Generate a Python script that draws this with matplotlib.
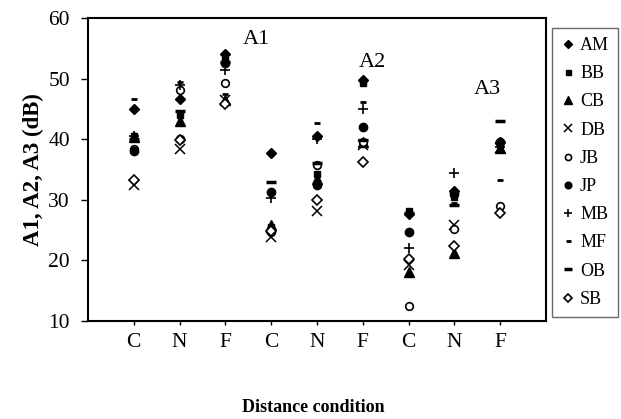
import matplotlib
matplotlib.use("Agg")
import matplotlib.pyplot as plt
import numpy as np

# categories along x: C/N/F for A1, A2, A3
conditions = ['C', 'N', 'F', 'C', 'N', 'F', 'C', 'N', 'F']
subjects = ['AM', 'BB', 'CB', 'DB', 'JB', 'JP', 'MB', 'MF', 'OB', 'SB']

# values (dB) per subject, one per condition column
AM = [45.0, 46.6, 54.0, 37.8, 40.5, 49.8, 27.7, 31.5, 39.5]
BB = [40.5, 44.0, 53.0, 25.5, 34.2, 49.2, 28.2, 30.5, 39.0]
CB = [40.3, 43.0, 46.5, 25.8, 33.5, 39.5, 18.1, 21.2, 38.5]
DB = [32.5, 38.3, 46.5, 23.8, 28.2, 39.0, 19.2, 25.8, 38.5]
JB = [38.4, 48.1, 49.2, 24.6, 35.8, 39.5, 12.5, 25.2, 29.0]
JP = [38.0, 40.0, 52.5, 31.3, 32.5, 42.0, 24.6, 31.0, 39.6]
MB = [40.6, 49.0, 51.5, 30.3, 40.0, 45.0, 22.0, 34.5, 38.7]
MF = [46.7, 49.5, 47.5, 33.0, 42.6, 46.2, 24.4, 29.5, 33.3]
OB = [40.0, 44.6, 52.8, 32.9, 36.0, 39.8, 27.8, 29.1, 43.0]
SB = [33.2, 39.9, 45.8, 24.8, 30.0, 36.3, 20.3, 22.4, 27.8]

series = [AM, BB, CB, DB, JB, JP, MB, MF, OB, SB]
styles = [
    dict(marker='D', ms=5.5, mfc='black', mec='black'),
    dict(marker='s', ms=4.5, mfc='black', mec='black'),
    dict(marker='^', ms=6.5, mfc='black', mec='black'),
    dict(marker='x', ms=6.5, mec='black', mew=1.1),
    dict(marker='o', ms=5.5, mfc='white', mec='black', mew=1.2),
    dict(marker='o', ms=6.0, mfc='black', mec='black'),
    dict(marker='+', ms=7.5, mec='black', mew=1.2),
    dict(marker='_', ms=4.5, mec='black', mew=2.0),
    dict(marker='_', ms=7.0, mec='black', mew=2.5),
    dict(marker='D', ms=5.5, mfc='white', mec='black', mew=1.2),
]

plt.rcParams['font.family'] = ['Liberation Serif', 'DejaVu Serif']

fig = plt.figure(figsize=(6.21, 4.19), dpi=100)
ax = fig.add_axes([0.1417, 0.234, 0.7375, 0.723])

x = np.arange(1, len(conditions) + 1)
for name, vals, st in zip(subjects, series, styles):
    ax.plot(x, vals, linestyle='none', color='black', label=name, **st)

ax.set_xlim(0, 10)
ax.set_ylim(10, 60)
ax.set_yticks([10, 20, 30, 40, 50, 60])
ax.set_xticks(x)
ax.set_xticklabels(conditions)
ax.tick_params(axis='both', labelsize=15.5, direction='out', width=1)
ax.tick_params(axis='y', length=5, pad=8)
ax.tick_params(axis='x', length=3, pad=6)
for sp in ax.spines.values():
    sp.set_linewidth(1.5)

ax.text(3.67, 56.4, 'A1', fontsize=16, ha='center', va='center')
ax.text(6.22, 52.7, 'A2', fontsize=16, ha='center', va='center')
ax.text(8.72, 48.2, 'A3', fontsize=16, ha='center', va='center')

ax.set_ylabel('A1, A2, A3 (dB)', fontsize=16.5, fontweight='bold')
ax.yaxis.set_label_coords(-0.096, 0.5)
fig.text(0.505, 0.027, 'Distance condition', fontsize=13, fontweight='bold',
         ha='center', va='center')

leg = fig.legend(loc='upper left', bbox_to_anchor=(0.889, 0.933), fontsize=13,
                 frameon=True, fancybox=False, edgecolor='#444444',
                 handlelength=0.8, handletextpad=0.25, labelspacing=0.62,
                 borderpad=0.5, markerscale=0.8, borderaxespad=0)
leg.get_frame().set_linewidth(1.0)

fig.savefig('out.png', dpi=100)
